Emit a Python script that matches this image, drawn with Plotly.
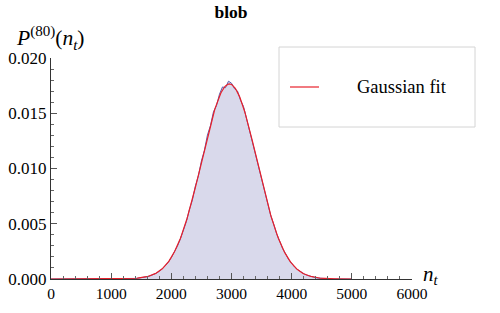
import numpy as np
import plotly.graph_objects as go

# Histogram (n_t bin centres, probability)
n_t = list(range(0, 5001, 50))
hist_nonzero_start = 1300
hist_vals_core = [
    0.00001, 0.00002, 0.00005, 0.00008, 0.00011, 0.00015, 0.00021, 0.00029, 0.00039, 0.00052,
    0.00070, 0.00091, 0.00120, 0.00152, 0.00193, 0.00247, 0.00296, 0.00362, 0.00447, 0.00521,
    0.00628, 0.00715, 0.00842, 0.00935, 0.01068, 0.01165, 0.01302, 0.01388, 0.01512, 0.01568,
    0.01672, 0.01738, 0.01731, 0.01790, 0.01772, 0.01722, 0.01701, 0.01618, 0.01561, 0.01449,
    0.01361, 0.01236, 0.01138, 0.01005, 0.00905, 0.00781, 0.00688, 0.00578, 0.00498, 0.00409,
    0.00345, 0.00275, 0.00228, 0.00176, 0.00142, 0.00108, 0.00085, 0.00063, 0.00048, 0.00035,
    0.00025, 0.00018, 0.00012, 0.00008, 0.00005, 0.00003, 0.00002, 0.00001,
]
n_lead = hist_nonzero_start // 50
hist_vals = [0.0] * n_lead + hist_vals_core
hist_vals += [0.0] * (len(n_t) - len(hist_vals))

# Gaussian fit parameters
fit_mu = 2965.0
fit_sigma = 460.0
fit_amp = 0.01765
fit_x = np.linspace(0, 5000, 501)
fit_y = fit_amp * np.exp(-(fit_x - fit_mu) ** 2 / (2 * fit_sigma ** 2))

x_ticks = [0, 1000, 2000, 3000, 4000, 5000, 6000]
y_ticks = [0.000, 0.005, 0.010, 0.015, 0.020]
y_tick_text = ["0.000", "0.005", "0.010", "0.015", "0.020"]

SERIF = "Liberation Serif, Times New Roman, serif"

fig = go.Figure()
fig.add_trace(go.Scatter(
    x=n_t, y=hist_vals, mode="lines",
    line=dict(color="#5b5bab", width=1),
    fill="tozeroy", fillcolor="rgba(170,170,210,0.45)",
    showlegend=False, hoverinfo="skip",
))
fig.add_trace(go.Scatter(
    x=fit_x, y=fit_y, mode="lines",
    line=dict(color="#e8202a", width=1.2),
    name="Gaussian fit", showlegend=False,
))

axis_common = dict(
    showgrid=False, zeroline=False, showline=True, linecolor="#333", linewidth=1,
    ticks="inside", tickcolor="#555", ticklen=6, automargin=False,
)
fig.update_xaxes(
    range=[0, 6000], tickvals=x_ticks, ticktext=[str(v) for v in x_ticks],
    tickfont=dict(family=SERIF, size=15.5, color="black"),
    minor=dict(ticks="inside", ticklen=3, dtick=200, tickcolor="#666"),
    **axis_common,
)
fig.update_yaxes(
    range=[0, 0.020], tickvals=y_ticks, ticktext=y_tick_text,
    tickfont=dict(family=SERIF, size=17, color="black"),
    minor=dict(ticks="inside", ticklen=3, dtick=0.001, tickcolor="#666"),
    **axis_common,
)

fig.update_layout(
    width=500, height=313,
    margin=dict(l=51, r=88, t=58, b=34, autoexpand=False),
    paper_bgcolor="white", plot_bgcolor="white",
    title=dict(text="<b>blob</b>", x=231 / 500, xanchor="center", y=1 - 12 / 313, yanchor="middle",
               font=dict(family=SERIF, size=17.5, color="black")),
    showlegend=False,
)

# axis labels
fig.add_annotation(
    text="<i>P</i><sup>(80)</sup>(<i>n</i><sub><i>t</i></sub>)",
    xref="paper", yref="paper", x=(14 - 51) / 361, y=(279 - 38) / 221, xanchor="left", yanchor="middle",
    showarrow=False, font=dict(family=SERIF, size=21.5, color="black"),
)
fig.add_annotation(
    text="<i>n</i><sub><i>t</i></sub>",
    xref="paper", yref="paper", x=(421 - 51) / 361, y=4 / 221, xanchor="left", yanchor="middle",
    showarrow=False, font=dict(family=SERIF, size=21, color="black"),
)

# legend box
fig.add_shape(type="rect", xref="paper", yref="paper",
              x0=(279 - 51) / 361, x1=(475 - 51) / 361, y0=(279 - 127) / 221, y1=(279 - 47) / 221,
              line=dict(color="#d4d4d4", width=1), fillcolor="white")
fig.add_shape(type="line", xref="paper", yref="paper",
              x0=(290 - 51) / 361, x1=(319 - 51) / 361, y0=(279 - 87) / 221, y1=(279 - 87) / 221,
              line=dict(color="#e8202a", width=1.2))
fig.add_annotation(text="Gaussian fit", xref="paper", yref="paper",
                   x=(355 - 51) / 361, y=(279 - 87) / 221, xanchor="left", yanchor="middle",
                   showarrow=False, font=dict(family=SERIF, size=18.5, color="black"))

fig.write_html("out.html", config={"displayModeBar": False},
               post_script="document.body.style.margin='0';")
